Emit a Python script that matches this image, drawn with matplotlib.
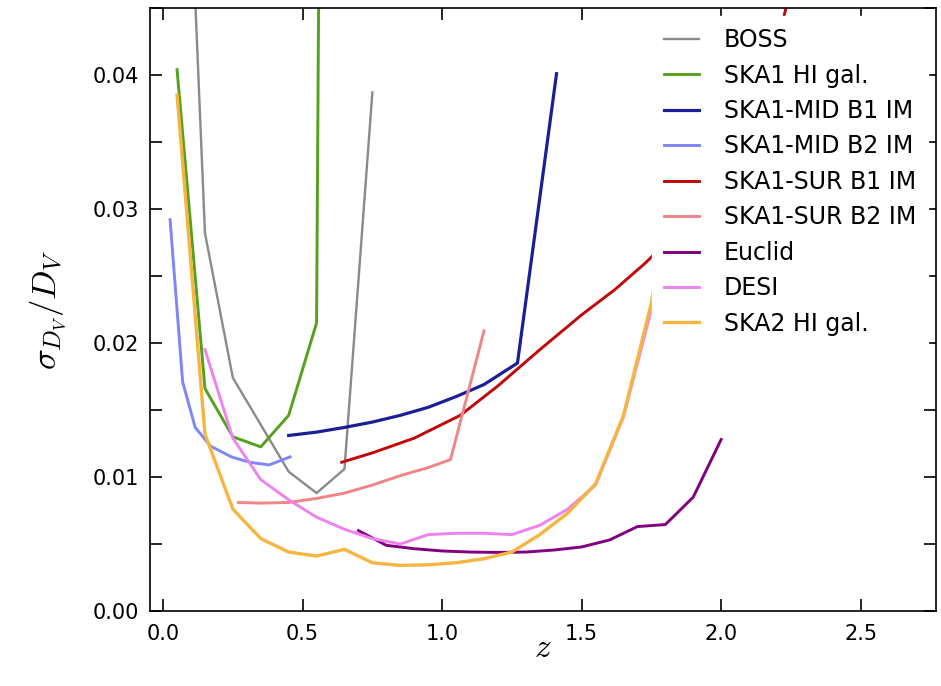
import numpy as np
import matplotlib
matplotlib.use("Agg")
import matplotlib.pyplot as plt
from matplotlib.ticker import MultipleLocator

plt.rcParams['mathtext.fontset'] = 'cm'
plt.rcParams['font.family'] = ['DejaVu Sans']

# ---- data ----
boss_z = [0.05, 0.15, 0.25, 0.35, 0.45, 0.55, 0.65, 0.75]
boss_s = [0.078, 0.0282, 0.0174, 0.0139, 0.0104, 0.0088, 0.0106, 0.0387]

ska1gal_z = [0.05, 0.15, 0.25, 0.35, 0.45, 0.55, 0.65]
ska1gal_s = [0.0404, 0.0166, 0.0130, 0.01225, 0.0146, 0.0215, 0.35]

midb1_z = [0.45, 0.55, 0.65, 0.75, 0.85, 0.95, 1.05, 1.15, 1.27, 1.41]
midb1_s = [0.0131, 0.01335, 0.0137, 0.0141, 0.0146, 0.0152, 0.0160, 0.0169, 0.0185, 0.0401]

midb2_z = [0.025, 0.07, 0.115, 0.17, 0.245, 0.31, 0.38, 0.455]
midb2_s = [0.0292, 0.0171, 0.0137, 0.0123, 0.0115, 0.0111, 0.0109, 0.0115]

surb1_z = [0.64, 0.75, 0.9, 1.065, 1.2, 1.35, 1.5, 1.62, 1.73, 1.85, 2.0, 2.15, 2.25, 2.35]
surb1_s = [0.0111, 0.0118, 0.0129, 0.0146, 0.0168, 0.0195, 0.0221, 0.0240, 0.0260,
           0.0285, 0.0325, 0.038, 0.0465, 0.060]

surb2_z = [0.27, 0.35, 0.45, 0.55, 0.65, 0.75, 0.85, 0.95, 1.03, 1.15]
surb2_s = [0.0081, 0.00805, 0.0081, 0.0084, 0.0088, 0.0094, 0.0101, 0.0107, 0.0113, 0.0209]

euclid_z = [0.7, 0.8, 0.9, 1.0, 1.1, 1.2, 1.3, 1.4, 1.5, 1.6, 1.7, 1.8, 1.9, 2.0]
euclid_s = [0.0060, 0.0049, 0.00465, 0.00448, 0.0044, 0.00437, 0.0044, 0.00455,
            0.00478, 0.0053, 0.0063, 0.00645, 0.0085, 0.0128]

desi_z = [0.15, 0.25, 0.35, 0.45, 0.55, 0.65, 0.75, 0.85, 0.95, 1.05, 1.15, 1.25,
          1.35, 1.45, 1.55, 1.65, 1.75, 1.85]
desi_s = [0.0195, 0.0129, 0.0098, 0.0083, 0.0070, 0.0061, 0.0054, 0.0050, 0.0057,
          0.0058, 0.0058, 0.0057, 0.0064, 0.0076, 0.0094, 0.0145, 0.0225, 0.035]

ska2_z = [0.05, 0.15, 0.25, 0.35, 0.45, 0.55, 0.65, 0.75, 0.85, 0.95, 1.05, 1.15,
          1.25, 1.35, 1.45, 1.55, 1.65, 1.75, 1.85]
ska2_s = [0.0385, 0.0132, 0.0076, 0.0054, 0.0044, 0.0041, 0.0046, 0.0036, 0.0034,
          0.00345, 0.0036, 0.0039, 0.0044, 0.0057, 0.0073, 0.0095, 0.0146, 0.0230, 0.035]

series = [
    ("BOSS", boss_z, boss_s, "#8a8a8a", 1.7),
    ("SKA1 HI gal.", ska1gal_z, ska1gal_s, "#55a01e", 2.1),
    ("SKA1-MID B1 IM", midb1_z, midb1_s, "#1a1f96", 2.3),
    ("SKA1-MID B2 IM", midb2_z, midb2_s, "#7f86f5", 2.1),
    ("SKA1-SUR B1 IM", surb1_z, surb1_s, "#c00808", 2.1),
    ("SKA1-SUR B2 IM", surb2_z, surb2_s, "#f08585", 2.1),
    ("Euclid", euclid_z, euclid_s, "#800080", 2.1),
    ("DESI", desi_z, desi_s, "#ee82ee", 2.1),
    ("SKA2 HI gal.", ska2_z, ska2_s, "#f6b540", 2.4),
]

fig = plt.figure(figsize=(9.41, 6.86), dpi=100)
ax = fig.add_axes([150/941, 1-611/686, (936-150)/941, (611-8)/686])

for name, z, s, c, lw in series:
    ax.plot(z, s, color=c, lw=lw, label=name)

ax.set_xlim(-0.047, 2.77)
ax.set_ylim(0, 0.045)
ax.xaxis.set_major_locator(MultipleLocator(0.5))
ax.yaxis.set_major_locator(MultipleLocator(0.01))
ax.yaxis.set_minor_locator(MultipleLocator(0.005))
ax.tick_params(which='both', direction='in', top=True, right=True,
               length=8.5, width=1.2, labelsize=15)
ax.tick_params(axis='x', pad=9)
ax.tick_params(axis='y', pad=8)
for sp in ax.spines.values():
    sp.set_linewidth(1.2)

ax.set_xlabel(r"$z$", fontsize=24, labelpad=-9)
ax.set_ylabel(r"$\sigma_{D_V}/D_V$", fontsize=25, labelpad=18)

leg = ax.legend(loc='upper right', fontsize=17, frameon=True, framealpha=1,
                edgecolor='white', facecolor='white', fancybox=False,
                handlelength=1.48, handletextpad=1.06, labelspacing=0.485,
                borderpad=0.5, borderaxespad=0.35)

fig.savefig("out.png", dpi=100)
